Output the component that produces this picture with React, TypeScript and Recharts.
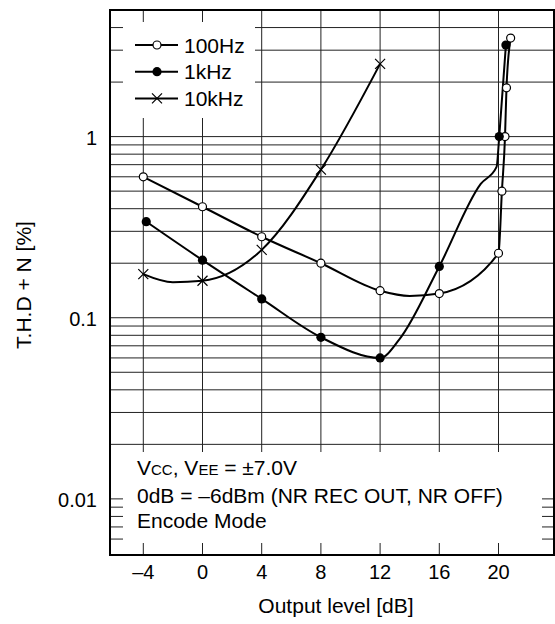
import React from "react";
import {
  LineChart,
  Line,
  XAxis,
  YAxis,
  CartesianGrid,
  ReferenceArea,
  Legend,
  Label,
} from "recharts";

const FONT = "'Liberation Sans', Arial, Helvetica, sans-serif";

const seriesNames = ["100Hz", "1kHz", "10kHz"];

// output level [dB] / THD+N [%]; mark = 1 where the sheet draws a symbol
const hz100X = [-4, 0, 4, 8, 12, 14, 16, 20, 20.23, 20.44, 20.54, 20.82];
const hz100Y = [0.6, 0.41, 0.28, 0.2, 0.141, 0.132, 0.136, 0.227, 0.5, 1.0, 1.86, 3.5];
const hz100Mark = [1, 1, 1, 1, 1, 0, 1, 1, 1, 1, 1, 1];

const k1X = [-3.8, 0, 4, 8, 12, 13.3, 16, 18.8, 19.87, 20.05, 20.5];
const k1Y = [0.339, 0.208, 0.127, 0.078, 0.06, 0.076, 0.192, 0.548, 0.68, 1.0, 3.2];
const k1Mark = [1, 1, 1, 1, 1, 0, 1, 0, 0, 1, 1];

const k10X = [-4, -2, 0, 4, 8, 12];
const k10Y = [0.174, 0.157, 0.16, 0.237, 0.657, 2.52];
const k10Mark = [1, 0, 1, 1, 1, 1];

const xTicks = [-4, 0, 4, 8, 12, 16, 20];
const yGrid = [
  0.006, 0.007, 0.008, 0.009, 0.01, 0.02, 0.03, 0.04, 0.05, 0.06, 0.07, 0.08, 0.09,
  0.1, 0.2, 0.3, 0.4, 0.5, 0.6, 0.7, 0.8, 0.9, 1, 2, 3, 4, 5,
];
const yLabels = [0.01, 0.1, 1];

const notes = ["Vcc, Vee = ±7.0V", "0dB = –6dBm (NR REC OUT, NR OFF)", "Encode Mode"];

const toRows = (xs: number[], ys: number[], ms: number[]) =>
  xs.map((x, i) => ({ x, y: ys[i], m: ms[i] }));

const hz100 = toRows(hz100X, hz100Y, hz100Mark);
const k1 = toRows(k1X, k1Y, k1Mark);
const k10 = toRows(k10X, k10Y, k10Mark);

const Marker = ({ kind, cx, cy }: { kind: number; cx: number; cy: number }) => {
  if (kind === 0) return <circle cx={cx} cy={cy} r={4} fill="#fff" stroke="#000" strokeWidth={1.2} />;
  if (kind === 1) return <circle cx={cx} cy={cy} r={4.6} fill="#000" />;
  return (
    <path
      d={`M${cx - 5},${cy - 5}L${cx + 5},${cy + 5}M${cx - 5},${cy + 5}L${cx + 5},${cy - 5}`}
      stroke="#000"
      strokeWidth={1.2}
    />
  );
};

const makeDot = (kind: number) => (p: any) => {
  if (!p.payload || !p.payload.m) return <g key={p.index} />;
  return (
    <g key={p.index}>
      <Marker kind={kind} cx={p.cx} cy={p.cy} />
    </g>
  );
};

const XTick = (p: any) => (
  <text x={p.x} y={p.y + 24} textAnchor="middle" fontSize={20} fontFamily={FONT} fill="#000">
    {String(p.payload.value).replace("-", "–")}
  </text>
);

const YTick = (p: any) => {
  if (!yLabels.includes(p.payload.value)) return <g />;
  return (
    <text x={p.x - 13} y={p.y + 8} textAnchor="end" fontSize={20} fontFamily={FONT} fill="#000">
      {p.payload.value}
    </text>
  );
};

const LegendBox = () => (
  <svg width={132} height={96} style={{ display: "block" }}>
    {seriesNames.map((name, i) => {
      const y = 23 + i * 26.7;
      return (
        <g key={name}>
          <line x1={12} x2={55} y1={y} y2={y} stroke="#000" strokeWidth={2} />
          <Marker kind={i} cx={34} cy={y} />
          <text x={61} y={y + 7.5} fontSize={21} fontFamily={FONT} fill="#000">
            {name}
          </text>
        </g>
      );
    })}
  </svg>
);

const Notes = () => (
  <div
    style={{ position: "absolute", left: 123, top: 452, width: 419, height: 91, background: "#fff" }}
  >
    <svg width={419} height={91} style={{ display: "block" }}>
      <text x={14} y={23} fontSize={21} fontFamily={FONT} fill="#000">
        V<tspan fontSize={15}>CC</tspan>, V<tspan fontSize={15}>EE</tspan> = ±7.0V
      </text>
      <text x={14} y={51} fontSize={21} fontFamily={FONT} fill="#000">
        {notes[1]}
      </text>
      <text x={14} y={76} fontSize={21} fontFamily={FONT} fill="#000">
        {notes[2]}
      </text>
    </svg>
  </div>
);

export default function App() {
  return (
    <div style={{ position: "relative", width: 555, height: 624, background: "#fff", fontFamily: FONT }}>
      <style>{"body{margin:0}"}</style>
      <LineChart width={555} height={624} margin={{ top: 10, right: 1, bottom: 0, left: 0 }}>
        <CartesianGrid stroke="#222" strokeWidth={1} />
        <XAxis
          type="number"
          dataKey="x"
          domain={[-6.25, 23.75]}
          ticks={xTicks}
          interval={0}
          allowDataOverflow
          height={69}
          tickLine={false}
          axisLine={false}
          tickSize={0}
          tickMargin={0}
          tick={<XTick />}
        >
          <Label
            content={() => (
              <text x={336} y={613} textAnchor="middle" fontSize={21} fontFamily={FONT} fill="#000">
                Output level [dB]
              </text>
            )}
          />
        </XAxis>
        <YAxis
          type="number"
          scale="log"
          domain={[0.0049, 5]}
          ticks={yGrid}
          interval={0}
          allowDataOverflow
          width={110}
          tickLine={false}
          axisLine={false}
          tickSize={0}
          tickMargin={0}
          tick={<YTick />}
        >
          <Label
            content={() => (
              <text
                transform="translate(31,285) rotate(-90)"
                textAnchor="middle"
                fontSize={21}
                fontFamily={FONT}
                fill="#000"
              >
                T.H.D + N [%]
              </text>
            )}
          />
        </YAxis>
        <ReferenceArea
          x1={-6.25}
          x2={23.75}
          y1={0.0049}
          y2={5}
          fill="none"
          stroke="#000"
          strokeWidth={2}
          ifOverflow="visible"
        />
        <Line
          data={hz100}
          dataKey="y"
          name={seriesNames[0]}
          type="monotone"
          stroke="#000"
          strokeWidth={2}
          dot={makeDot(0)}
          activeDot={false}
          isAnimationActive={false}
        />
        <Line
          data={k1}
          dataKey="y"
          name={seriesNames[1]}
          type="monotone"
          stroke="#000"
          strokeWidth={2}
          dot={makeDot(1)}
          activeDot={false}
          isAnimationActive={false}
        />
        <Line
          data={k10}
          dataKey="y"
          name={seriesNames[2]}
          type="monotone"
          stroke="#000"
          strokeWidth={2}
          dot={makeDot(2)}
          activeDot={false}
          isAnimationActive={false}
        />
        <Legend
          layout="horizontal"
          verticalAlign="middle"
          align="center"
          content={() => <LegendBox />}
          wrapperStyle={{
            position: "absolute",
            left: 123,
            top: 22,
            width: 132,
            height: 96,
            background: "#fff",
          }}
        />
      </LineChart>
      <Notes />
    </div>
  );
}
